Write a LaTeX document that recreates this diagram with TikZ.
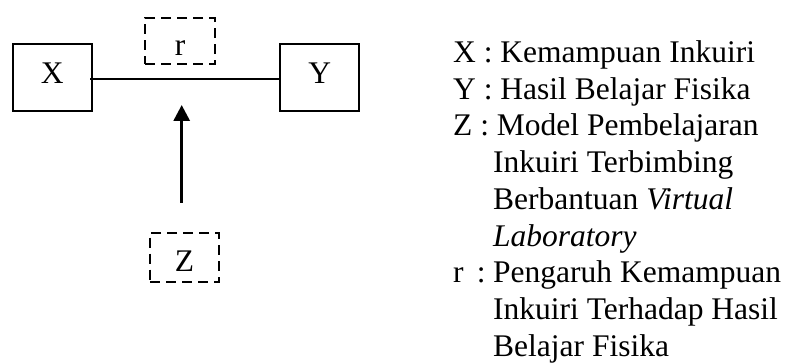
\documentclass[tikz,border=0pt]{standalone}
\usepackage{fontspec}
\setmainfont{Liberation Serif}
\usetikzlibrary{arrows.meta}
\tikzset{
      varbox/.style={
        draw=black,
        line width=1.8pt,
        minimum width=79pt,
        minimum height=66.5pt,
        inner sep=0pt,
        text height=21pt,
        text depth=9pt
      },
      dashbox/.style={
        draw=black,
        line width=1.8pt,
        dash pattern=on 10pt off 6pt,
        inner sep=0pt,
        text height=28pt,
        text depth=0pt
      }
    }

\begin{document}
\begin{tikzpicture}[x=1pt,y=-1pt,font=\fontsize{31.5}{36.7}\selectfont]
    \useasboundingbox (0,0) rectangle (787,363);
    \node[varbox] (x) at (52.3,77.5) {X};
    \node[varbox] (y) at (319.7,77.5) {Y};
    \node[dashbox, minimum width=70pt, minimum height=46pt] (r) at (180.2,41.2) {r};
    \node[dashbox, minimum width=69pt, minimum height=49pt] (z) at (184.5,257.2) {Z};
    \coordinate (hit) at (181.7,105);
    \draw[line width=1.9pt] ([xshift=-2.5pt]x.east |- 0,78.7) -- (y.west |- 0,78.7);
    \draw[line width=3pt, -{Triangle[length=16pt,width=16pt]}, shorten <=29pt] (z.north -| hit) -- (hit);
    \node[anchor=north west, inner sep=0pt, align=left] (legend) at (453,40.5) {%
      X : Kemampuan Inkuiri\\
      Y : Hasil Belajar Fisika\\
      Z : Model Pembelajaran\\
      \hspace*{40pt}Inkuiri Terbimbing\\
      \hspace*{40pt}Berbantuan \textit{Virtual}\\
      \hspace*{40pt}\textit{Laboratory}\\
      \makebox[40pt][l]{r\, :}Pengaruh Kemampuan\\
      \hspace*{40pt}Inkuiri Terhadap Hasil\\
      \hspace*{40pt}Belajar Fisika};
    \end{tikzpicture}
\end{document}
